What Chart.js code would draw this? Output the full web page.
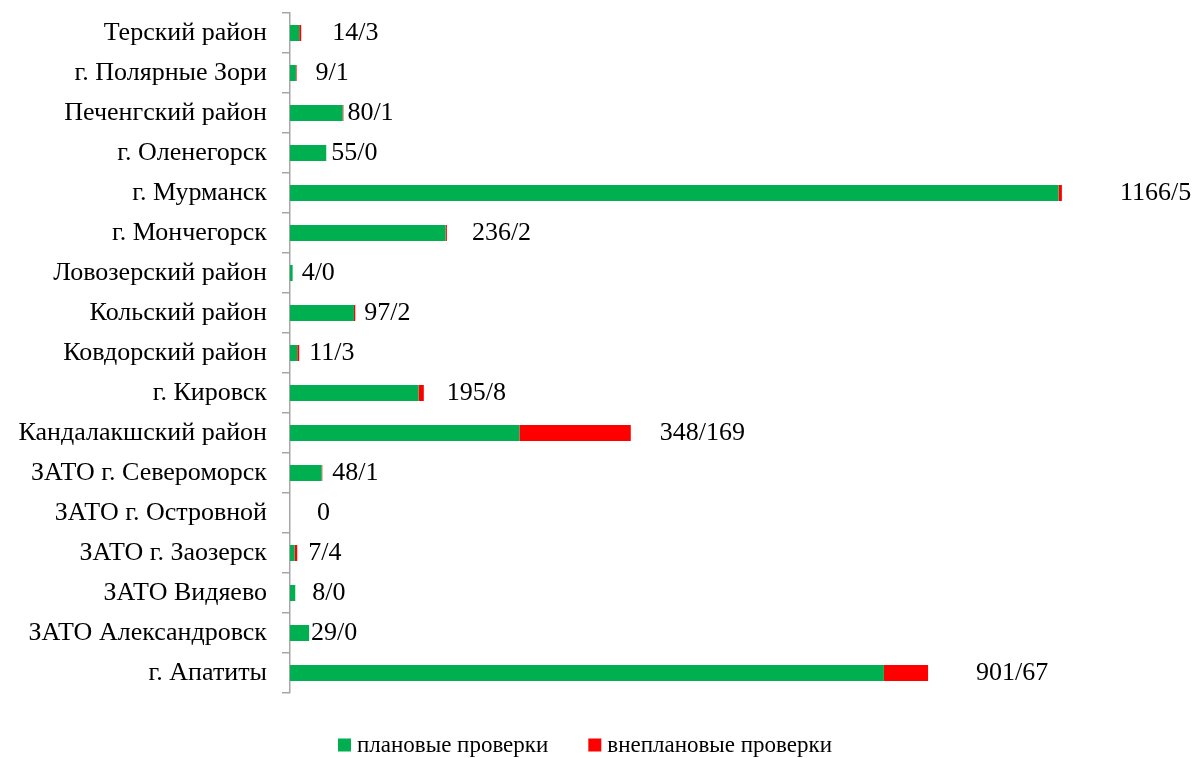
<!DOCTYPE html>
<html>
<head>
<meta charset="utf-8">
<script src="https://cdn.jsdelivr.net/npm/chart.js@4/dist/chart.umd.min.js"></script>
<style>
html,body{margin:0;padding:0;background:#fff;}
#wrap{width:1194px;height:758px;position:relative;}
</style>
</head>
<body>
<div id="wrap"><canvas id="c" width="1194" height="758"></canvas></div>
<script>
const categories = [
  "Терский район",
  "г. Полярные Зори",
  "Печенгский район",
  "г. Оленегорск",
  "г. Мурманск",
  "г. Мончегорск",
  "Ловозерский район",
  "Кольский район",
  "Ковдорский район",
  "г. Кировск",
  "Кандалакшский район",
  "ЗАТО г. Североморск",
  "ЗАТО г. Островной",
  "ЗАТО г. Заозерск",
  "ЗАТО Видяево",
  "ЗАТО Александровск",
  "г. Апатиты"
];
const planned   = [14, 9, 80, 55, 1166, 236, 4, 97, 11, 195, 348, 48, 0, 7, 8, 29, 901];
const unplanned = [3, 1, 1, 0, 5, 2, 0, 2, 3, 8, 169, 1, 0, 4, 0, 0, 67];
const seriesNames = ["плановые проверки", "внеплановые проверки"];

// horizontal nudges (px) of the value labels, as placed in the original
const labelNudge = [31, 19, 4, 5, 58, 25, 9, 9, 10, 23, 29, 10, 27, 11, 17, 2, 48];

const SERIF = "'Liberation Serif', 'Times New Roman', serif";

const valueLabels = {
  id: 'valueLabels',
  afterDatasetsDraw(chart) {
    const ctx = chart.ctx;
    const meta = chart.getDatasetMeta(1);
    ctx.save();
    ctx.font = "26px " + SERIF;
    ctx.fillStyle = "#000";
    ctx.textAlign = "left";
    ctx.textBaseline = "middle";
    meta.data.forEach((bar, i) => {
      const p = planned[i], u = unplanned[i];
      const txt = (p === 0 && u === 0) ? "0" : p + "/" + u;
      ctx.fillText(txt, bar.x + labelNudge[i], bar.y);
    });
    ctx.restore();
  }
};

const bottomLegend = {
  id: 'bottomLegend',
  afterDraw(chart) {
    const ctx = chart.ctx;
    ctx.save();
    ctx.font = "23px " + SERIF;
    ctx.textBaseline = "middle";
    ctx.textAlign = "left";
    const box = 13, gap = 6, itemGap = 40, cy = 745;
    const items = chart.data.datasets.map(d => ({ text: d.label, color: d.backgroundColor, w: ctx.measureText(d.label).width }));
    let total = 0;
    items.forEach((it, i) => { total += box + gap + it.w + (i ? itemGap : 0); });
    let x = chart.width / 2 - 12 - total / 2;
    items.forEach((it, i) => {
      if (i) x += itemGap;
      ctx.fillStyle = it.color;
      ctx.fillRect(x, cy - box / 2, box, box);
      x += box + gap;
      ctx.fillStyle = "#000";
      ctx.fillText(it.text, x, cy + 1);
      x += it.w;
    });
    ctx.restore();
  }
};

new Chart(document.getElementById('c'), {
  type: 'bar',
  data: {
    labels: categories,
    datasets: [
      { label: seriesNames[0], data: planned, backgroundColor: '#00B050', borderWidth: 0,
        barPercentage: 0.4, categoryPercentage: 1 },
      { label: seriesNames[1], data: unplanned, backgroundColor: '#FF0000', borderWidth: 0,
        barPercentage: 0.4, categoryPercentage: 1 }
    ]
  },
  options: {
    indexAxis: 'y',
    responsive: false,
    animation: false,
    layout: { padding: { top: 13, right: 113, bottom: 0, left: 0 } },
    scales: {
      x: {
        stacked: true,
        min: 0, max: 1200,
        display: true,
        ticks: { display: false },
        grid: { display: false },
        border: { display: false },
        afterFit(scale) { scale.height = 65; scale.paddingLeft = 0; scale.paddingRight = 0; }
      },
      y: {
        stacked: true,
        grid: { display: true, drawOnChartArea: false, drawTicks: true, tickLength: 8,
                color: '#A6A6A6', lineWidth: 1.5, offset: true },
        border: { display: true, color: '#A6A6A6', width: 1.5 },
        ticks: { color: '#000', font: { family: SERIF, size: 26 }, padding: 15, autoSkip: false },
        afterFit(scale) { scale.width = 290; scale.paddingTop = 0; scale.paddingBottom = 0; }
      }
    },
    plugins: {
      legend: { display: false },
      tooltip: { enabled: false }
    }
  },
  plugins: [valueLabels, bottomLegend]
});
</script>
</body>
</html>
